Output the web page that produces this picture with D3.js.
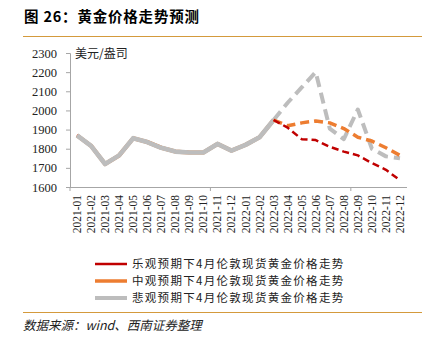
<!DOCTYPE html>
<html>
<head>
<meta charset="utf-8">
<script src="https://cdn.jsdelivr.net/npm/d3@7"></script>
<style>
  body{margin:0;background:#fff;}
  svg{display:block;}
</style>
</head>
<body>
<svg id="holder"></svg>
<script>
// months 2021-01 .. 2022-12
var months=['2021-01','2021-02','2021-03','2021-04','2021-05','2021-06','2021-07','2021-08','2021-09','2021-10','2021-11','2021-12',
  '2022-01','2022-02','2022-03','2022-04','2022-05','2022-06','2022-07','2022-08','2022-09','2022-10','2022-11','2022-12'];
// actual prices (shared by all three series), up to 2022-03
var actual=[1870,1815,1720,1765,1855,1835,1805,1785,1780,1780,1825,1790,1820,1860,1950];
// forecasts 2022-04 .. 2022-12
var optimistic=[1910,1850,1845,1810,1785,1765,1725,1690,1635];
var neutral=[1920,1935,1945,1935,1905,1860,1840,1805,1765];
var pessimistic=[2040,2120,2200,1905,1850,2005,1800,1760,1750];
var yticks=[1600,1700,1800,1900,2000,2100,2200,2300];
var series_names=['乐观预期下4月伦敦现货黄金价格走势','中观预期下4月伦敦现货黄金价格走势','悲观预期下4月伦敦现货黄金价格走势'];

var W=433, H=346;
var svg=d3.select('#holder').attr('width',W).attr('height',H);
var gold='#d49a3c';
var axis_color='#a6a6a6';

// header
svg.append('text').attr('x',24).attr('y',22)
  .style('font-family','"Noto Sans CJK SC", sans-serif').style('font-size','14.5px').style('font-weight','bold')
  .style('letter-spacing','0.8px')
  .text('图 26：黄金价格走势预测');
svg.append('line').attr('x1',23).attr('x2',422).attr('y1',36.5).attr('y2',36.5)
  .attr('stroke',gold).attr('stroke-width',1.2);

var padding_left=70, plot_right=407, plot_top=53, plot_bottom=187;

var xscale=d3.scaleBand().domain(months).range([padding_left,plot_right]);
var yscale=d3.scaleLinear().domain([1600,2300]).range([plot_bottom,plot_top]);
function xc(i) {return xscale(months[i])+xscale.bandwidth()/2;}

var gg=svg.append('g');

// y axis
var y_axis=d3.axisLeft(yscale).tickValues(yticks).tickSize(4).tickFormat(d3.format('d'));
var Y=gg.append('g').attr('transform','translate('+padding_left+',0)').call(y_axis);
Y.select('.domain').attr('stroke',axis_color);
Y.selectAll('line').attr('stroke',axis_color);
Y.selectAll('text').attr('x',-13).style('font-family','"Liberation Serif", serif').style('font-size','12.5px').attr('fill','#222');

// x axis line + tick marks every 10 categories
gg.append('line').attr('x1',padding_left).attr('x2',plot_right).attr('y1',plot_bottom+0.5).attr('y2',plot_bottom+0.5)
  .attr('stroke',axis_color).attr('stroke-width',1);
[0,10,20].forEach(function(k) {
  var xx=padding_left+k*xscale.step();
  gg.append('line').attr('x1',xx).attr('x2',xx).attr('y1',plot_bottom).attr('y2',plot_bottom+4)
    .attr('stroke',axis_color);
});
months.forEach(function(mo,i) {
  gg.append('text')
    .attr('transform','translate('+(xc(i)+4)+','+(plot_bottom+8)+') rotate(-90)')
    .style('text-anchor','end')
    .style('font-family','"Liberation Serif", serif').style('font-size','11.5px').attr('fill','#222')
    .text(mo);
});

// unit label
gg.append('text').attr('x',75).attr('y',58)
  .style('font-family','"Noto Sans CJK SC", sans-serif').style('font-size','12px').attr('fill','#222')
  .text('美元/盎司');

var line=d3.line().x(function(d) {return xc(d.i);}).y(function(d) {return yscale(d.v);});
function hist_pts() {return actual.map(function(v,i) {return {i:i,v:v};});}
function fc_pts(arr) {
  var n=actual.length-1;
  return [{i:n,v:actual[n]}].concat(arr.map(function(v,k) {return {i:n+1+k,v:v};}));
}

var styles=[
  {color:'#c00000',w:2.5,dash:'7,4',data:optimistic},
  {color:'#ed7d31',w:3.5,dash:'9,5',data:neutral},
  {color:'#bdbdbd',w:4,dash:'11,6',data:pessimistic}
];
// actual lines (stacked, gray on top)
styles.forEach(function(s) {
  gg.append('path').attr('d',line(hist_pts())).attr('fill','none')
    .attr('stroke',s.color).attr('stroke-width',s.w+0.6).attr('stroke-linejoin','round');
});
// forecast dashes, gray first so red/orange sit on top like the picture
[2,1,0].forEach(function(k) {
  var s=styles[k];
  gg.append('path').attr('d',line(fc_pts(s.data))).attr('fill','none')
    .attr('stroke',s.color).attr('stroke-width',s.w).attr('stroke-dasharray',s.dash).attr('stroke-linejoin','round');
});

// legend
var ly=[264,281,298];
series_names.forEach(function(name,k) {
  var s=styles[k];
  svg.append('line').attr('x1',95).attr('x2',127).attr('y1',ly[k]).attr('y2',ly[k])
    .attr('stroke',s.color).attr('stroke-width',s.w);
  svg.append('text').attr('x',132).attr('y',ly[k]+4)
    .style('font-family','"Noto Sans CJK SC", sans-serif').style('font-size','11.5px')
    .style('letter-spacing','1.3px').attr('fill','#222')
    .text(name);
});

// footer
svg.append('line').attr('x1',23).attr('x2',422).attr('y1',312.5).attr('y2',312.5)
  .attr('stroke',gold).attr('stroke-width',1.2);
svg.append('text').attr('x',23).attr('y',330)
  .style('font-family','"Noto Sans CJK SC", sans-serif').style('font-size','12.5px').style('font-style','italic').attr('fill','#222')
  .text('数据来源：wind、西南证券整理');
</script>
</body>
</html>
